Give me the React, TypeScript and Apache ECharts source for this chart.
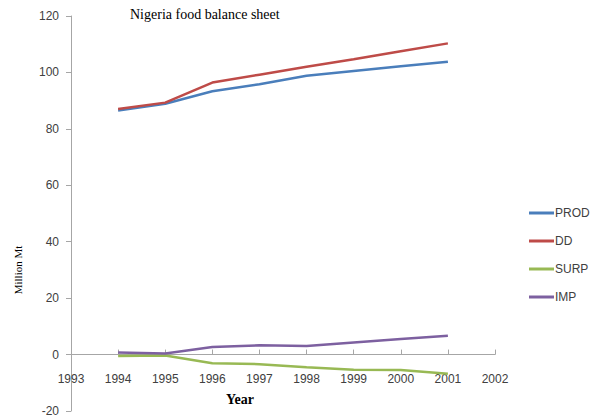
import React, { useEffect, useRef } from "react";
import * as echarts from "echarts";

const years = [1994, 1995, 1996, 1997, 1998, 1999, 2000, 2001];
const prod = [86.5, 88.9, 93.3, 95.8, 98.8, 100.5, 102.2, 103.8];
const dd = [87.0, 89.3, 96.4, 99.2, 102.0, 104.7, 107.5, 110.3];
const surp = [-0.5, -0.3, -3.1, -3.4, -4.5, -5.4, -5.5, -6.8];
const imp = [0.7, 0.4, 2.7, 3.3, 3.0, 4.3, 5.5, 6.7];
const seriesNames = ["PROD", "DD", "SURP", "IMP"];
const seriesColors = ["#4A7EBB", "#BE4B48", "#98B954", "#7D60A0"];

const Y_MIN = -20;
const Y_MAX = 120;
const GRID_TOP = 16;
const GRID_BOTTOM = 4;
const H = 415;

export default function App() {
  const ref = useRef<HTMLDivElement>(null);
  useEffect(() => {
    document.body.style.margin = "0";
    if (!ref.current) return;
    const chart = echarts.init(ref.current, null, { renderer: "svg" });
    const all = [prod, dd, surp, imp];
    const gridH = H - GRID_TOP - GRID_BOTTOM;
    const zeroOffset = (gridH * (0 - Y_MIN)) / (Y_MAX - Y_MIN);
    chart.setOption({
      animation: false,
      backgroundColor: "#ffffff",
      grid: { left: 71, right: 96, top: GRID_TOP, bottom: GRID_BOTTOM, outerBoundsMode: "none", containLabel: false },
      legend: {
        orient: "vertical",
        left: 524,
        top: 201,
        itemWidth: 25,
        itemHeight: 3,
        itemGap: 14,
        icon: "rect",
        textStyle: { fontFamily: "Liberation Sans", fontSize: 12, color: "#404040", padding: [0, 0, 0, -4], lineHeight: 14 },
        data: seriesNames,
      },
      xAxis: {
        type: "value",
        min: 1993,
        max: 2002,
        interval: 1,
        position: "bottom",
        offset: -zeroOffset,
        axisLine: { onZero: false, lineStyle: { color: "#a6a6a6", width: 1 } },
        axisTick: { inside: true, length: 5, lineStyle: { color: "#a6a6a6" } },
        axisLabel: {
          margin: 18,
          fontFamily: "Liberation Sans",
          fontSize: 12,
          color: "#404040",
          formatter: (v: number) => String(v),
        },
        splitLine: { show: false },
      },
      yAxis: {
        type: "value",
        min: Y_MIN,
        max: Y_MAX,
        interval: 20,
        axisLine: { show: true, lineStyle: { color: "#a6a6a6", width: 1 } },
        axisTick: { show: true, length: 5, lineStyle: { color: "#a6a6a6" } },
        axisLabel: { margin: 12, fontFamily: "Liberation Sans", fontSize: 12, color: "#404040" },
        splitLine: { show: false },
      },
      series: seriesNames.map((name, i) => ({
        name,
        type: "line",
        data: years.map((y, j) => [y, all[i][j]]),
        showSymbol: false,
        symbol: "none",
        color: seriesColors[i],
        lineStyle: { width: 2.5, color: seriesColors[i] },
      })),
      graphic: [
        {
          type: "text",
          left: 130,
          top: 7,
          style: { text: "Nigeria food balance sheet", font: "14px 'Liberation Serif'", fill: "#000" },
        },
        {
          type: "text",
          left: 226,
          top: 392,
          style: { text: "Year", font: "bold 14px 'Liberation Serif'", fill: "#000" },
        },
        {
          type: "text",
          x: 18,
          y: 270,
          rotation: Math.PI / 2,
          style: { text: "Million Mt", font: "11px 'Liberation Serif'", fill: "#000", align: "center", verticalAlign: "middle" },
        },
      ],
    });
    return () => chart.dispose();
  }, []);
  return <div ref={ref} style={{ width: 591, height: 415 }} />;
}
